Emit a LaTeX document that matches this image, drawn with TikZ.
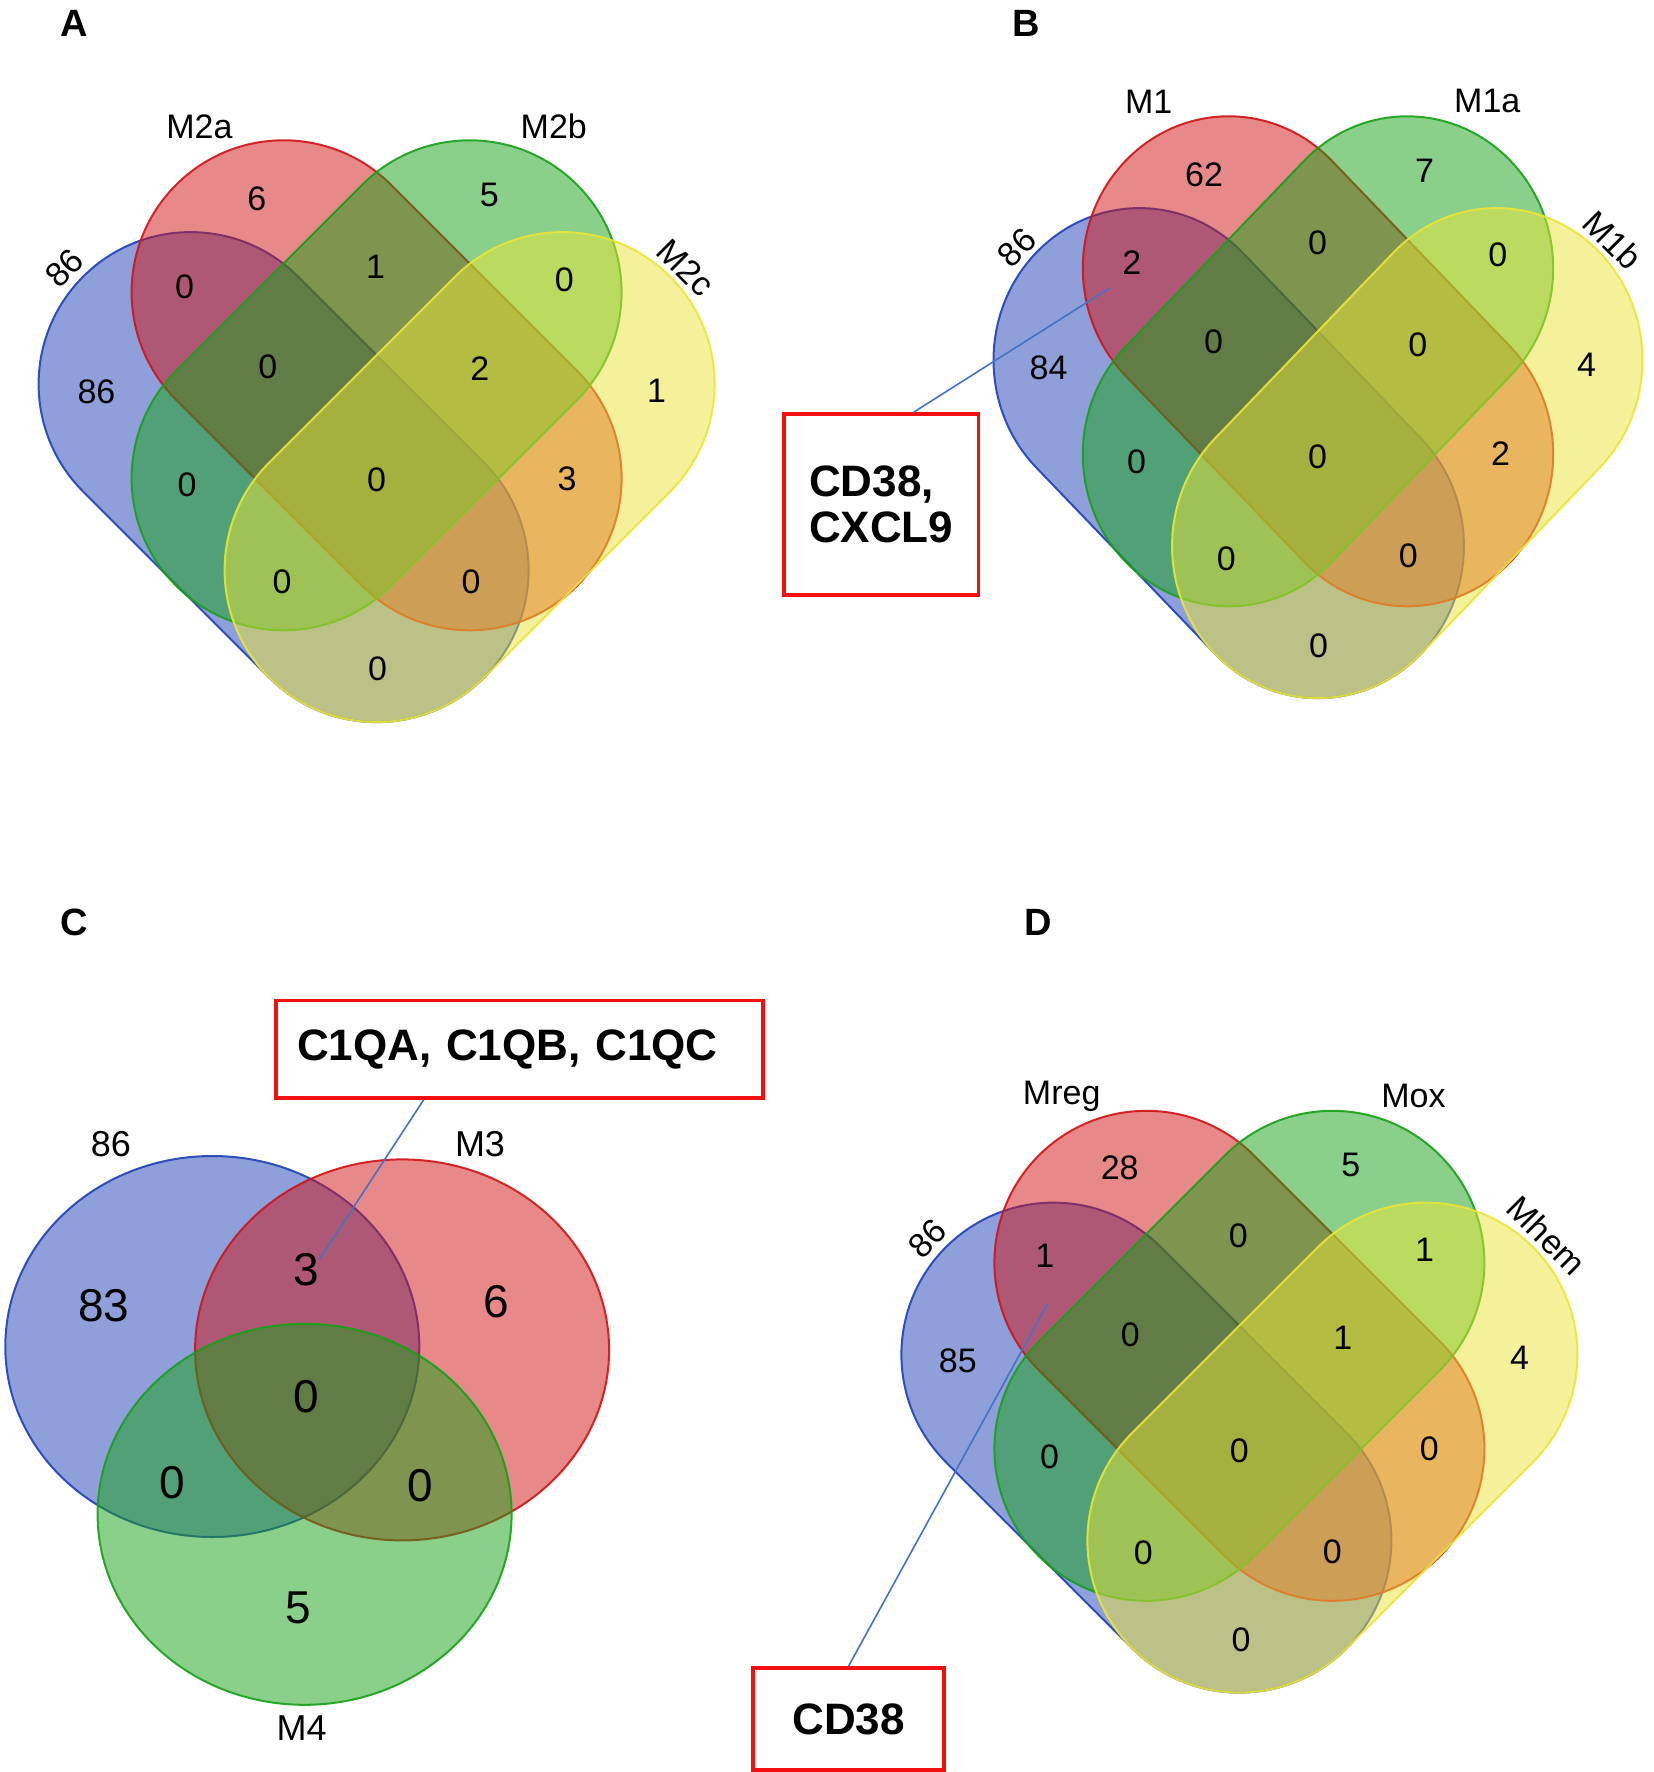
\documentclass[tikz,border=0pt]{standalone}
\usepackage{fontspec}
\setmainfont{Liberation Sans}
\usetikzlibrary{calc}
\definecolor{vblue}{RGB}{31,65,181}
\definecolor{vred}{RGB}{209,19,21}
\definecolor{vgreen}{RGB}{23,161,23}
\definecolor{vyellow}{RGB}{235,229,55}
\definecolor{leadblue}{RGB}{68,114,196}
\definecolor{boxred}{RGB}{240,16,16}
\newcommand{\vcaps}[4]{\path[#4] ($(#1)+(#3-90:152)$) -- ($(#2)+(#3-90:152)$)
  arc[start angle=#3-90, end angle=#3+90, radius=152]
  -- ($(#1)+(#3+90:152)$)
  arc[start angle=#3+90, end angle=#3+270, radius=152] -- cycle;}
\newcommand{\fourshapes}{%
  \vcaps{-186,384.1}{0,570.1}{45}{sblue}
  \vcaps{-93,292.3}{93,478.3}{45}{sred}
  \vcaps{93,292.3}{-93,478.3}{135}{sgreen}
  \vcaps{186,384.1}{0,570.1}{135}{syellow}}
\begin{document}
\begin{tikzpicture}[x=0.5pt,y=-0.5pt,
  num/.style={font=\fontsize{17}{20}\selectfont, inner sep=0pt},
  lab/.style={font=\fontsize{17}{20}\selectfont, inner sep=0pt},
  cnum/.style={font=\fontsize{23}{26}\selectfont, inner sep=0pt},
  clab/.style={font=\fontsize{18}{21}\selectfont, inner sep=0pt},
  panel/.style={font=\fontsize{19}{22}\selectfont\bfseries, inner sep=0pt},
  sblue/.style={fill=vblue, fill opacity=0.5, draw=vblue, draw opacity=0.9, line width=1pt},
  sred/.style={fill=vred, fill opacity=0.5, draw=vred, draw opacity=0.9, line width=1pt},
  sgreen/.style={fill=vgreen, fill opacity=0.5, draw=vgreen, draw opacity=0.9, line width=1pt},
  syellow/.style={fill=vyellow, fill opacity=0.5, draw=vyellow, draw opacity=0.9, line width=1pt},
  genebox/.style={draw=boxred, line width=1.8pt, font=\fontsize{22}{23.3}\selectfont\bfseries, align=left},
  leader/.style={draw=leadblue, line width=0.8pt}]
\useasboundingbox (0,0) rectangle (1654,1772);
\fill[white] (0,0) rectangle (1654,1772);

% ---------- Panel A ----------
\begin{scope}[shift={(376.6,0)}]
  \fourshapes
\end{scope}
\node[panel] (pA) at (73.8,23) {A};
\node[lab] (A1) at (199.4,126.5) {M2a};
\node[lab] (A2) at (553.8,126.5) {M2b};
\node[lab,rotate=45] (A3) at (64.3,267.9) {86};
\node[lab,rotate=-45] (A4) at (685.6,267.9) {M2c};
\node[num] (a01) at (256.8,199) {6};
\node[num] (a02) at (489.4,195.4) {5};
\node[num] (a03) at (184.6,287.2) {0};
\node[num] (a04) at (375.5,266.8) {1};
\node[num] (a05) at (564.3,279.6) {0};
\node[num] (a06) at (96.5,391.8) {86};
\node[num] (a07) at (267.9,366.3) {0};
\node[num] (a08) at (479.9,368.9) {2};
\node[num] (a09) at (656.6,390.3) {1};
\node[num] (a10) at (187.2,484.7) {0};
\node[num] (a11) at (376.6,479.6) {0};
\node[num] (a12) at (567,478.6) {3};
\node[num] (a13) at (282.2,581.6) {0};
\node[num] (a14) at (471,581.6) {0};
\node[num] (a15) at (377.6,668.4) {0};

% ---------- Panel B ----------
\begin{scope}[shift={(1318,-24)}, xscale=0.96]
  \fourshapes
\end{scope}
\node[panel] (pB) at (1026.4,23) {B};
\node[lab] (B1) at (1148.7,102) {M1};
\node[lab] (B2) at (1487.3,101) {M1a};
\node[lab,rotate=45] (B3) at (1016.9,247.4) {86};
\node[lab,rotate=-45] (B4) at (1612.8,239.8) {M1b};
\node[num] (b01) at (1204.1,175) {62};
\node[num] (b02) at (1424.5,170.9) {7};
\node[num] (b03) at (1131.8,262.8) {2};
\node[num] (b04) at (1317.5,242.3) {0};
\node[num] (b05) at (1497.8,255.1) {0};
\node[num] (b06) at (1048.5,367.3) {84};
\node[num] (b07) at (1213.6,341.8) {0};
\node[num] (b08) at (1417.7,344.4) {0};
\node[num] (b09) at (1586.5,364.8) {4};
\node[num] (b10) at (1136.6,461.7) {0};
\node[num] (b11) at (1317.5,456.6) {0};
\node[num] (b12) at (1500.5,454.1) {2};
\node[num] (b13) at (1226.2,558.7) {0};
\node[num] (b14) at (1408.2,556.1) {0};
\node[num] (b15) at (1318.5,645.4) {0};
\node[genebox, minimum width=97.2pt, minimum height=90.5pt] (boxB) at (881.2,504.5) {CD38,\\CXCL9};
\coordinate (ldB) at (1109.2,288.3);
\draw[leader] (ldB) -- ($(boxB.north west)!0.664!(boxB.north east)$);

% ---------- Panel C ----------
\draw[sblue] (212.3,1346.5) ellipse [x radius=207, y radius=190.5];
\draw[sred] (402.1,1349.9) ellipse [x radius=207, y radius=190.5];
\draw[sgreen] (304.6,1514.3) ellipse [x radius=207, y radius=190.5];
\node[panel] (pC) at (73.8,922.7) {C};
\node[clab] (C1) at (110.8,1144.5) {86};
\node[clab] (C2) at (480,1144.5) {M3};
\node[clab] (C3) at (301.7,1727.7) {M4};
\node[cnum] (c01) at (103.9,1305.5) {83};
\node[cnum] (c02) at (305.9,1269.7) {3};
\node[cnum] (c03) at (495.8,1302.1) {6};
\node[cnum] (c04) at (305.9,1396.6) {0};
\node[cnum] (c05) at (172.5,1483) {0};
\node[cnum] (c06) at (420.3,1485.9) {0};
\node[cnum] (c07) at (298,1608.2) {5};
\node[genebox, minimum width=243.7pt, minimum height=48.65pt, text width=222.5pt, inner xsep=10.6pt] (boxC) at (519.5,1049.25) {C1QA, C1QB, C1QC};
\coordinate (ldC) at (319,1260);
\draw[leader] (ldC) -- ($(boxC.south west)!0.305!(boxC.south east)$);

% ---------- Panel D ----------
\begin{scope}[shift={(1239.4,970.5)}]
  \fourshapes
\end{scope}
\node[panel] (pD) at (1038,922.7) {D};
\node[lab] (D1) at (1061.7,1096.2) {Mreg};
\node[lab] (D2) at (1413.5,1096.2) {Mox};
\node[lab,rotate=45] (D3) at (927.2,1238.4) {86};
\node[lab,rotate=-45] (D4) at (1546.9,1235.6) {Mhem};
\node[num] (d01) at (1119.7,1167.3) {28};
\node[num] (d02) at (1350.7,1164.5) {5};
\node[num] (d03) at (1044.8,1255.5) {1};
\node[num] (d04) at (1238.4,1235.6) {0};
\node[num] (d05) at (1424.6,1249.8) {1};
\node[num] (d06) at (957.8,1360.7) {85};
\node[num] (d07) at (1130.3,1335.1) {0};
\node[num] (d08) at (1342.8,1338) {1};
\node[num] (d09) at (1519.5,1357.9) {4};
\node[num] (d10) at (1049.6,1456.3) {0};
\node[num] (d11) at (1239.4,1450.6) {0};
\node[num] (d12) at (1429.3,1448.9) {0};
\node[num] (d13) at (1143.4,1553) {0};
\node[num] (d14) at (1332.2,1551.3) {0};
\node[num] (d15) at (1241,1639.5) {0};
\node[genebox, minimum width=95.5pt, minimum height=51pt] (boxD) at (848.5,1719) {CD38};
\coordinate (ldD) at (1047.5,1303.8);
\draw[leader] (ldD) -- (boxD.north);
\end{tikzpicture}
\end{document}
